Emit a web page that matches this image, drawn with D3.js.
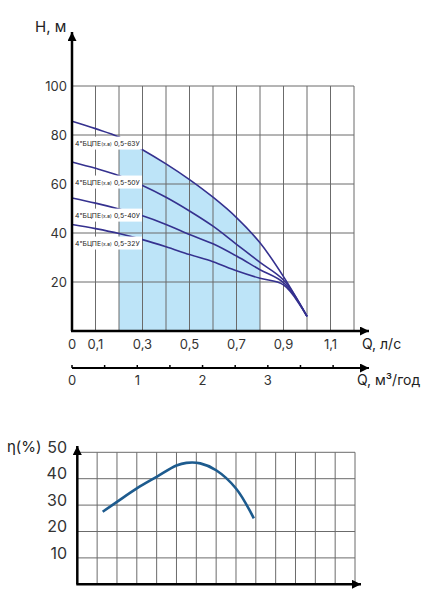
<!DOCTYPE html>
<html>
<head>
<meta charset="utf-8">
<script src="https://cdn.jsdelivr.net/npm/d3@7"></script>
<style>
  body { margin: 0; background: #fff; }
  svg { display: block; font-family: Inter, "Open Sans", sans-serif; }
</style>
</head>
<body>
<script>
// flow, l/s
let qLs = [0, 0.1, 0.2, 0.3, 0.4, 0.5, 0.6, 0.7, 0.8, 0.9, 1.0];
// head curves, m
let h63 = [85.6, 82.6, 79.2, 74.0, 68.2, 61.8, 54.6, 46.3, 36.0, 22.2, 6];
let h50 = [69.0, 66.4, 63.4, 59.4, 54.6, 49.0, 42.8, 35.4, 28.0, 20.8, 6];
let h40 = [54.3, 52.2, 49.8, 47.0, 43.5, 39.4, 35.6, 30.6, 25.0, 19.7, 6];
let h32 = [43.5, 41.8, 39.8, 37.3, 34.4, 31.2, 28.3, 24.6, 21.5, 18.8, 6];
let pumpNames = ["0,5-63У", "0,5-50У", "0,5-40У", "0,5-32У"];
let labelY = [76.7, 60.8, 47.3, 35.9];   // head where each name sits
let workRange = [0.2, 0.8];

let qTicks = [0, 0.1, 0.3, 0.5, 0.7, 0.9, 1.1];
let hTicks = [20, 40, 60, 80, 100];
let m3Ticks = [0, 0.5, 1, 1.5, 2, 2.5, 3, 3.5, 4];
let m3Labels = [0, 1, 2, 3];

// efficiency curve (grid columns, %)
let effCol = [1.28, 2, 3, 4, 5, 5.5, 6.2, 7, 8, 8.9];
let effVal = [27.5, 31.2, 36.3, 40.7, 45.0, 46.0, 45.8, 43.2, 36.3, 25.0];
let effTicks = [10, 20, 30, 40, 50];

const W = 424, H = 600;
const lineCol = "#35318f", gridCol = "#6b6b6b", txt = "#333";

let svg = d3.select("body").append("svg")
    .attr("width", W).attr("height", H)
    .attr("viewBox", [0, 0, W, H]);

svg.append("defs").append("marker")
    .attr("id", "arrow")
    .attr("viewBox", "0 -5 10 10")
    .attr("refX", 10).attr("refY", 0)
    .attr("markerUnits", "userSpaceOnUse")
    .attr("markerWidth", 9).attr("markerHeight", 9)
    .attr("orient", "auto")
    .append("path")
    .attr("d", "M0,-5L10,0L0,5Z")
    .attr("fill", "#000");

// ---------- head chart ----------
let x = d3.scaleLinear().domain([0, 1.2]).range([72, 354]);
let y = d3.scaleLinear().domain([0, 100]).range([331, 86]);
let x2 = d3.scaleLinear().domain([0, 1.2 * 3.6]).range([72, 354]);

let line = d3.line()
    .x((d, i) => x(qLs[i]))
    .y(d => y(d))
    .curve(d3.curveCatmullRom);

// working zone under the top curve
let zone = qLs.map((q, i) => [q, h63[i]]);
let topAt = q => {
    let i = d3.bisectLeft(qLs, q);
    if (qLs[i] === q) return h63[i];
    let t = (q - qLs[i - 1]) / (qLs[i] - qLs[i - 1]);
    return h63[i - 1] + t * (h63[i] - h63[i - 1]);
};
let zonePts = [[workRange[0], topAt(workRange[0])]]
    .concat(zone.filter(d => d[0] > workRange[0] && d[0] < workRange[1]))
    .concat([[workRange[1], topAt(workRange[1])]]);
svg.append("path")
    .datum(zonePts)
    .attr("fill", "#bde4f8")
    .attr("d", d3.area()
        .x(d => x(d[0]))
        .y0(y(0))
        .y1(d => y(d[1]))
        .curve(d3.curveCatmullRom));

let g = svg.append("g").attr("stroke", gridCol).attr("stroke-width", 1);
g.selectAll(".vx")
    .data(d3.range(1, 13).map(i => i / 10))
    .join("line")
    .attr("x1", d => x(d)).attr("x2", d => x(d))
    .attr("y1", y(0)).attr("y2", y(100));
g.selectAll(".hy")
    .data(hTicks)
    .join("line")
    .attr("x1", x(0)).attr("x2", x(1.2))
    .attr("y1", d => y(d)).attr("y2", d => y(d));

[h63, h50, h40, h32].forEach(s => {
    svg.append("path")
        .datum(s)
        .attr("fill", "none")
        .attr("stroke", lineCol)
        .attr("stroke-width", 1.6)
        .attr("d", line);
});

// pump labels on white boxes, three pieces placed side by side
let lab = svg.selectAll(".plab")
    .data(pumpNames)
    .join("g")
    .attr("transform", (d, i) => `translate(${x(0)},${y(labelY[i])})`);
lab.append("rect")
    .attr("x", 1).attr("y", -6.5)
    .attr("width", 69).attr("height", 13)
    .attr("fill", "#fff");
lab.each(function(d) {
    let gg = d3.select(this);
    let cx = 3;
    [["4\"БЦПЕ", 6.8], ["(х.в)", 4.9], [d, 6.8]].forEach(([s, fs], k) => {
        let t = gg.append("text")
            .attr("x", cx).attr("y", 2.5)
            .attr("font-size", fs)
            .attr("fill", "#222")
            .text(s);
        cx += t.node().getComputedTextLength() + (k === 1 ? 2.2 : 0.3);
    });
});

// axes
svg.append("line")
    .attr("x1", x(0)).attr("y1", y(0))
    .attr("x2", x(0)).attr("y2", 32)
    .attr("stroke", "#000").attr("stroke-width", 2.5)
    .attr("marker-end", "url(#arrow)");
svg.append("line")
    .attr("x1", x(0) - 1).attr("y1", y(0))
    .attr("x2", 369).attr("y2", y(0))
    .attr("stroke", "#000").attr("stroke-width", 2.5)
    .attr("marker-end", "url(#arrow)");

svg.selectAll(".yl")
    .data(hTicks)
    .join("text")
    .attr("x", 67).attr("y", d => y(d))
    .attr("dy", "0.35em")
    .attr("text-anchor", "end")
    .attr("font-size", 13)
    .attr("fill", txt)
    .text(d => d);
svg.selectAll(".xl")
    .data(qTicks)
    .join("text")
    .attr("x", d => x(d)).attr("y", 344)
    .attr("dy", "0.35em")
    .attr("text-anchor", "middle")
    .attr("font-size", 13)
    .attr("fill", txt)
    .text(d => String(d).replace(".", ","));

svg.append("text")
    .attr("x", 35).attr("y", 27).attr("dy", "0.35em")
    .attr("font-size", 15).attr("fill", "#222")
    .text("H, м");
svg.append("text")
    .attr("x", 362).attr("y", 344).attr("dy", "0.35em")
    .attr("font-size", 14).attr("fill", "#222")
    .text("Q, л/с");

// second flow axis, m3/h
svg.append("line")
    .attr("x1", x2(0)).attr("y1", 368)
    .attr("x2", 369).attr("y2", 368)
    .attr("stroke", "#000").attr("stroke-width", 2)
    .attr("marker-end", "url(#arrow)");
svg.selectAll(".m3t")
    .data(m3Ticks)
    .join("line")
    .attr("x1", d => x2(d)).attr("x2", d => x2(d))
    .attr("y1", 365).attr("y2", 368)
    .attr("stroke", "#000").attr("stroke-width", 1.5);
svg.selectAll(".m3l")
    .data(m3Labels)
    .join("text")
    .attr("x", d => x2(d)).attr("y", 380)
    .attr("dy", "0.35em")
    .attr("text-anchor", "middle")
    .attr("font-size", 13)
    .attr("fill", txt)
    .text(d => d);
svg.append("text")
    .attr("x", 357).attr("y", 380).attr("dy", "0.35em")
    .attr("font-size", 14).attr("fill", "#222")
    .text("Q, м³/год");

// ---------- efficiency chart ----------
let bx = d3.scaleLinear().domain([0, 14]).range([77.3, 355]);
let by = d3.scaleLinear().domain([0, 50]).range([584.3, 452.3]);

let bg = svg.append("g").attr("stroke", gridCol).attr("stroke-width", 1);
bg.selectAll("line.v")
    .data(d3.range(1, 15))
    .join("line")
    .attr("class", "v")
    .attr("x1", d => bx(d)).attr("x2", d => bx(d))
    .attr("y1", by(0)).attr("y2", by(50));
bg.selectAll("line.h")
    .data(effTicks)
    .join("line")
    .attr("class", "h")
    .attr("x1", bx(0)).attr("x2", bx(14))
    .attr("y1", d => by(d)).attr("y2", d => by(d));

svg.append("path")
    .datum(effVal)
    .attr("fill", "none")
    .attr("stroke", "#1d5b8e")
    .attr("stroke-width", 2.6)
    .attr("d", d3.line()
        .x((d, i) => bx(effCol[i]))
        .y(d => by(d))
        .curve(d3.curveCatmullRom));

svg.append("line")
    .attr("x1", bx(0)).attr("y1", by(0))
    .attr("x2", bx(0)).attr("y2", 446)
    .attr("stroke", "#000").attr("stroke-width", 2.5)
    .attr("marker-end", "url(#arrow)");
svg.append("line")
    .attr("x1", bx(0) - 1).attr("y1", by(0))
    .attr("x2", 361).attr("y2", by(0))
    .attr("stroke", "#000").attr("stroke-width", 2.5)
    .attr("marker-end", "url(#arrow)");

svg.selectAll(".el")
    .data(effTicks)
    .join("text")
    .attr("x", 67).attr("y", d => by(d) - 5)
    .attr("dy", "0.35em")
    .attr("text-anchor", "end")
    .attr("font-size", 16)
    .attr("fill", txt)
    .text(d => d);
svg.append("text")
    .attr("x", 7).attr("y", 447).attr("dy", "0.35em")
    .attr("font-size", 15).attr("fill", "#222")
    .text("η(%)");
</script>
</body>
</html>
